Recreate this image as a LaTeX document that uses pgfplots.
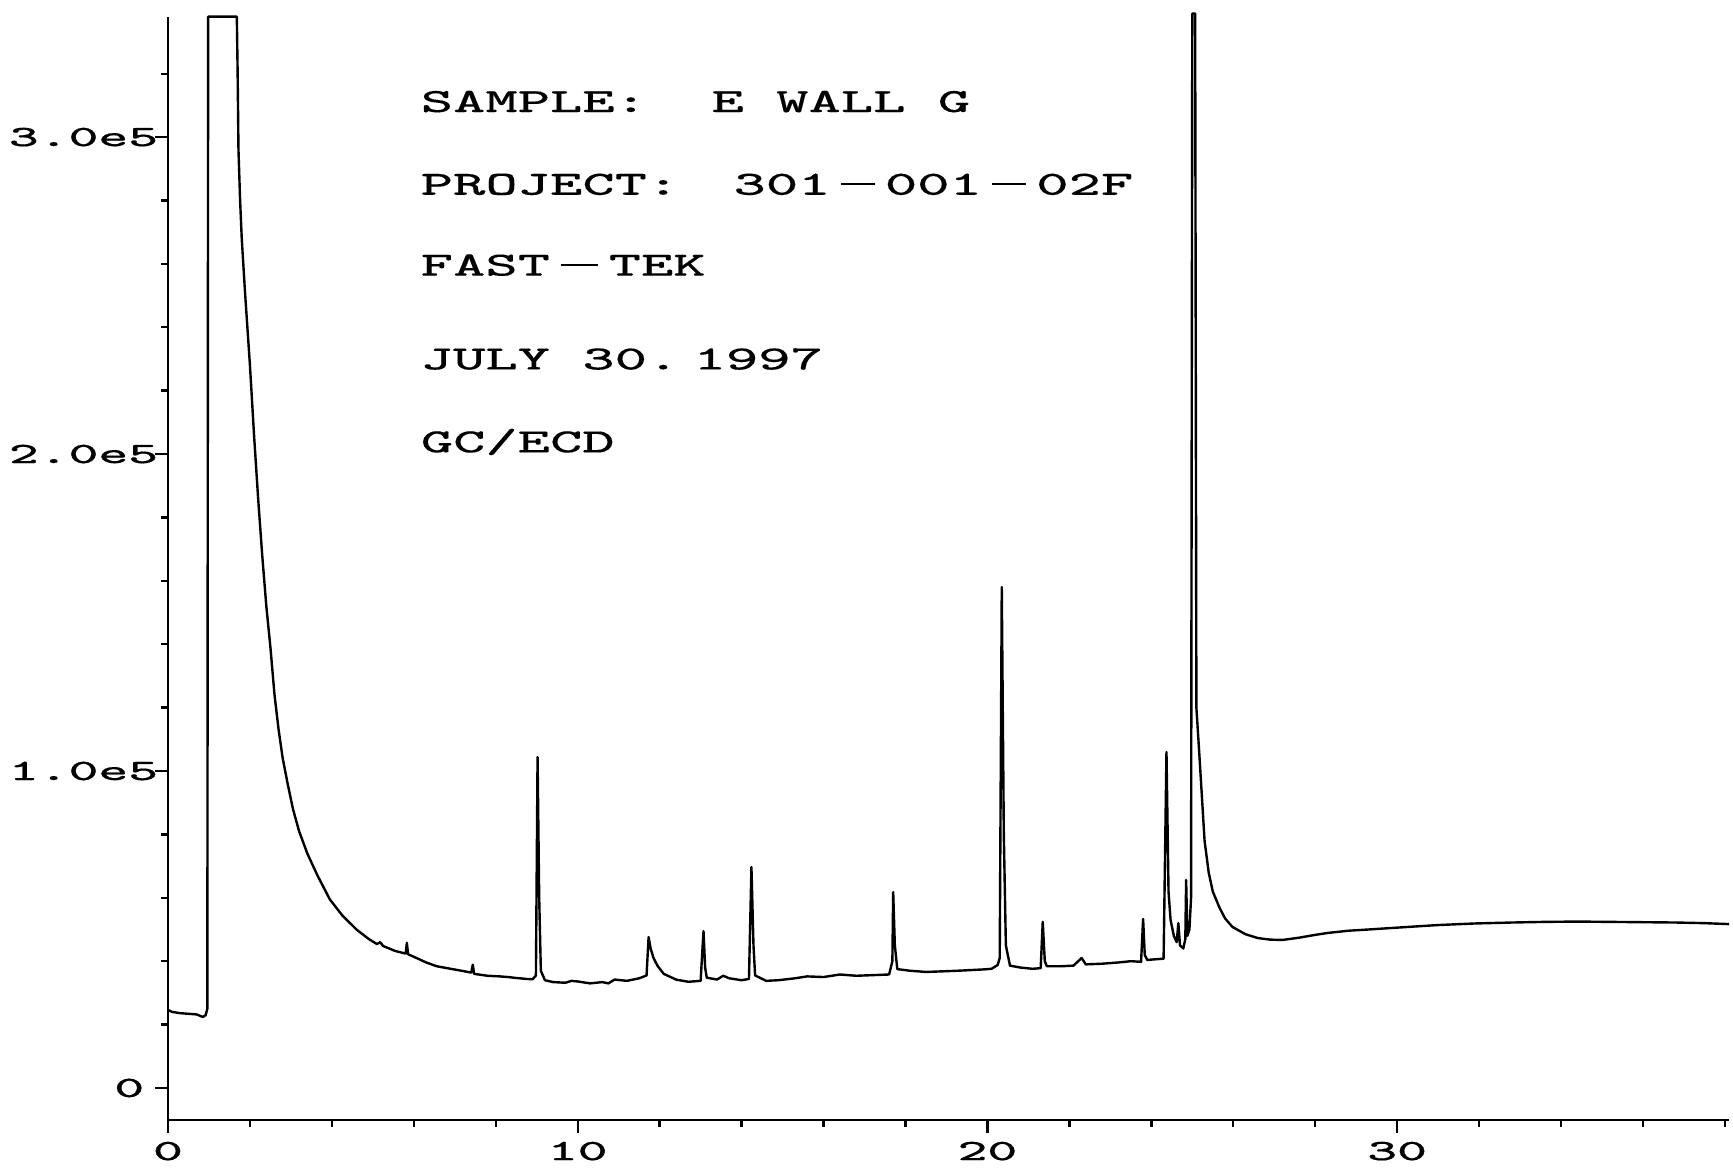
\documentclass[border=0pt]{standalone}
\usepackage{graphicx}
\usepackage{pgfplots}
\usepackage{pgfplotstable}
\pgfplotsset{compat=1.18}
\usepackage{fontspec}
\newfontfamily\tkfont{Latin Modern Mono}[FakeBold=0.5]
\newfontfamily\anfont{Latin Modern Mono}[FakeBold=0.2]
\newcommand{\tk}[1]{\mbox{\scalebox{1.9}[1]{\fontsize{7.4}{9}\selectfont\tkfont #1}}}
\newcommand{\an}[1]{\scalebox{1.79}[1]{\fontsize{8.5}{10}\selectfont\anfont #1}}
\newcommand{\dsh}{\hspace{1.4pt}\rule[2.45pt]{4.8pt}{0.55pt}\hspace{1.4pt}}

\pgfplotstableread{
t v
0.00 24.6
0.10 24.0
0.30 23.6
0.50 23.4
0.70 23.2
0.85 22.4
0.92 23.0
0.96 25.0
0.98 338
1.68 338
1.70 320
1.72 296
1.76 280
1.80 268
1.88 251
2.00 228
2.10 206
2.20 186
2.30 168
2.40 152
2.50 139
2.60 124
2.70 113
2.80 104
2.92 96
3.05 88
3.20 81
3.40 74
3.65 67
3.95 59.5
4.25 54.5
4.60 50
4.90 47
5.10 45.4
5.18 46.0
5.25 44.8
5.55 43.2
5.80 42.4
5.83 45.8
5.86 42.2
6.10 40.8
6.30 39.6
6.56 38.4
6.90 37.6
7.20 36.9
7.40 36.4
7.44 38.9
7.47 36.0
7.80 35.4
8.10 35.2
8.30 35.0
8.50 34.7
8.75 34.4
8.90 34.3
8.98 35.5
9.02 104.4
9.06 60
9.10 37
9.20 34
9.40 33.4
9.70 33.2
9.85 33.8
10.00 33.6
10.30 33.0
10.60 33.4
10.75 33.0
10.90 34.2
11.20 33.8
11.50 34.6
11.68 35.5
11.73 47.6
11.78 44
11.85 41
11.95 38.5
12.10 36
12.40 34.2
12.70 33.5
13.00 33.8
13.07 49.5
13.11 38
13.15 34.8
13.40 34.2
13.55 35.4
13.70 34.6
14.00 34.0
14.18 34.4
14.24 69.7
14.29 45
14.33 35.5
14.60 33.8
14.90 34.0
15.30 34.6
15.60 35.2
16.00 35.0
16.40 35.8
16.80 35.4
17.20 35.6
17.60 35.8
17.68 40
17.70 61.8
17.74 45
17.80 37.5
18.10 37.0
18.50 36.6
18.90 36.8
19.30 37.0
19.60 37.2
19.90 37.4
20.10 37.6
20.25 38.8
20.30 41
20.35 158
20.40 80
20.45 45
20.55 38.6
20.80 38.0
21.10 37.6
21.30 37.8
21.35 52.4
21.40 40
21.45 38.4
21.80 38.4
22.10 38.6
22.30 41.0
22.40 39.0
22.80 39.2
23.20 39.6
23.50 40.0
23.75 39.8
23.80 53.3
23.84 42
23.90 40.4
24.10 40.6
24.30 40.8
24.37 106
24.42 62
24.47 53
24.55 48
24.62 46
24.66 52
24.70 45
24.78 44
24.83 47
24.85 65.6
24.88 48
24.93 50
24.97 60
25.00 339
25.07 339
25.10 120
25.17 105.7
25.30 78
25.40 68
25.50 62
25.66 57
25.80 53.5
25.98 50.8
26.30 48.5
26.60 47.3
26.90 46.8
27.20 46.7
27.60 47.4
28.00 48.3
28.30 48.9
28.80 49.6
29.30 50.0
29.90 50.5
30.50 51.0
31.00 51.4
31.90 51.9
32.80 52.2
33.60 52.4
34.40 52.5
35.20 52.4
36.00 52.3
36.80 52.2
37.50 52.0
38.10 51.7
}\trace

\begin{document}
\begin{tikzpicture}
\begin{axis}[
  at={(0,0)}, anchor=south west,
  scale only axis, width=390.25pt, height=275.75pt,
  xmin=0, xmax=38.1, ymin=-10.1, ymax=337.9,
  enlargelimits=false,
  axis x line=bottom, axis y line=left,
  axis line style={-, line width=0.65pt, black},
  xtick={0,10,20,30},
  xticklabels={\tk{0},\tk{10},\tk{20},\tk{30}},
  minor xtick={2,4,6,8,12,14,16,18,22,24,26,28,32,34,36,38},
  ytick={0,100,200,300},
  yticklabels={\tk{0}\hspace*{2.5pt},\tk{1.0e5}\hspace*{-1pt},\tk{2.0e5}\hspace*{-1pt},\tk{3.0e5}\hspace*{-1pt}},
  minor ytick={20,40,60,80,120,140,160,180,220,240,260,280,320},
  tick align=outside,
  major tick length=3.25pt, minor tick length=1.75pt,
  every tick/.style={line width=0.6pt, black},
  scaled ticks=false,
  clip=false,
  yticklabel style={anchor=east, inner sep=0pt},
  xticklabel style={anchor=north, inner sep=0pt, yshift=-2pt},
]
\addplot[black, line width=0.6pt, line join=round, mark=none] table[x=t, y=v] {\trace};
\end{axis}
\node[anchor=west, inner sep=0pt] at (63pt,254.6pt) {\an{SAMPLE:\ \ E WALL G}};
\node[anchor=west, inner sep=0pt] at (63pt,233.9pt) {\an{PROJECT:\ \hspace{3.06pt}301\dsh 001\dsh 02F}};
\node[anchor=west, inner sep=0pt] at (63pt,213.7pt) {\an{FAST\hspace{1.5pt}\rule[2.45pt]{5.2pt}{0.55pt}\hspace{1.5pt}TEK}};
\node[anchor=west, inner sep=0pt] at (63pt,190.25pt) {\an{JULY 30.\hspace{2pt}1997}};
\node[anchor=west, inner sep=0pt] at (63pt,169.5pt) {\an{GC/ECD}};
\path (-42pt,-13.25pt) rectangle (391.25pt,280pt);
\end{tikzpicture}
\end{document}
